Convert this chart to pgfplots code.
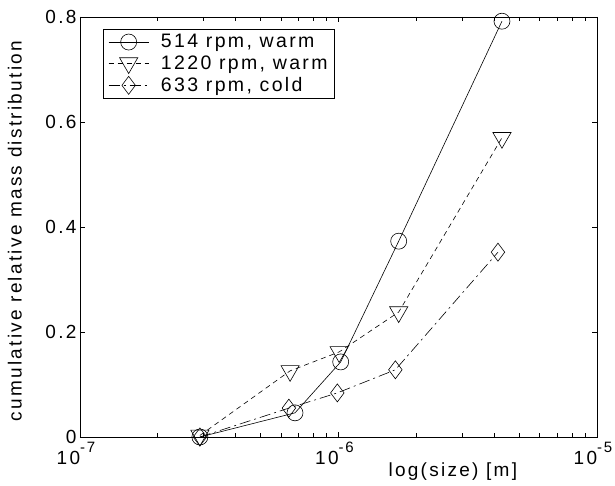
\documentclass[border=0pt]{standalone}
\usepackage{fontspec}
\setmainfont{Liberation Sans}[LetterSpace=12]
\usepackage{pgfplots}
\pgfplotsset{compat=1.18}
\begin{document}
\begin{tikzpicture}
\begin{axis}[
  name=ax,
  scale only axis,
  width=517bp, height=420bp,
  xmode=log,
  xmin=1e-7, xmax=1e-5,
  ymin=0, ymax=0.8,
  xtick={1e-7,1e-6,1e-5},
  xticklabels={10\raisebox{0.6em}{\fontsize{15bp}{15bp}\selectfont-7},
               10\raisebox{0.6em}{\fontsize{15bp}{15bp}\selectfont-6},
               10\raisebox{0.6em}{\fontsize{15bp}{15bp}\selectfont-5}},
  ytick={0,0.2,0.4,0.6,0.8},
  yticklabels={0,0.2,0.4,0.6,0.8},
  tick align=inside,
  xtick pos=both, ytick pos=both,
  major tick length=5bp, minor tick length=4bp,
  /pgf/number format/assume math mode=true,
  tick label style={font=\fontsize{19bp}{22bp}\selectfont},
  xticklabel style={yshift=-2bp, xshift=-4bp},
  label style={font=\fontsize{19bp}{22bp}\selectfont},
  xlabel={log(size) [m]},
  ylabel={cumulative relative mass distribution},
  xlabel style={at={(axis description cs:0.59,-0.093)}, anchor=base west},
  ylabel style={at={(axis description cs:-0.126,0.49)}, anchor=center},
  axis line style={line width=0.8bp},
  every tick/.style={black, line width=0.6bp},
  legend style={at={(axis description cs:0.0445,0.971)}, anchor=north west,
    draw=black, line width=0.8bp, font=\fontsize{19.5bp}{22bp}\selectfont,
    cells={anchor=west}, row sep=2bp, inner xsep=5bp, inner ysep=3bp,
    /tikz/every odd column/.append style={column sep=10bp}},
  legend image code/.code={\draw[mark repeat=2,mark phase=2] plot coordinates {(0bp,0bp) (20bp,0bp) (40bp,0bp)};},
]
\addplot[black, line width=0.6bp, mark=o, mark size=8bp, mark options={solid, line width=0.6bp}]
  coordinates {(2.91e-7,0) (6.79e-7,0.046) (1.02e-6,0.143) (1.71e-6,0.373) (4.29e-6,0.792)};
\addlegendentry{514 rpm, warm}
\addplot[black, line width=0.6bp, dash pattern=on 5bp off 4bp, mark=triangle, mark size=10.5bp, mark options={solid, rotate=180, line width=0.6bp}]
  coordinates {(2.91e-7,0.003) (6.5e-7,0.126) (1.006e-6,0.162) (1.71e-6,0.238) (4.29e-6,0.57)};
\addlegendentry{1220 rpm, warm}
\addplot[black, line width=0.6bp, dash pattern=on 11bp off 4bp on 2bp off 4bp, mark=diamond, mark size=9bp, mark options={solid, line width=0.6bp}]
  coordinates {(2.91e-7,0) (6.43e-7,0.055) (0.99e-6,0.084) (1.66e-6,0.128) (4.14e-6,0.352)};
\addlegendentry{633 rpm, cold}
\end{axis}
\pgfresetboundingbox
\path (ax.south west) ++(-80bp,-49bp) rectangle ++(615bp,486bp);
\end{tikzpicture}
\end{document}
